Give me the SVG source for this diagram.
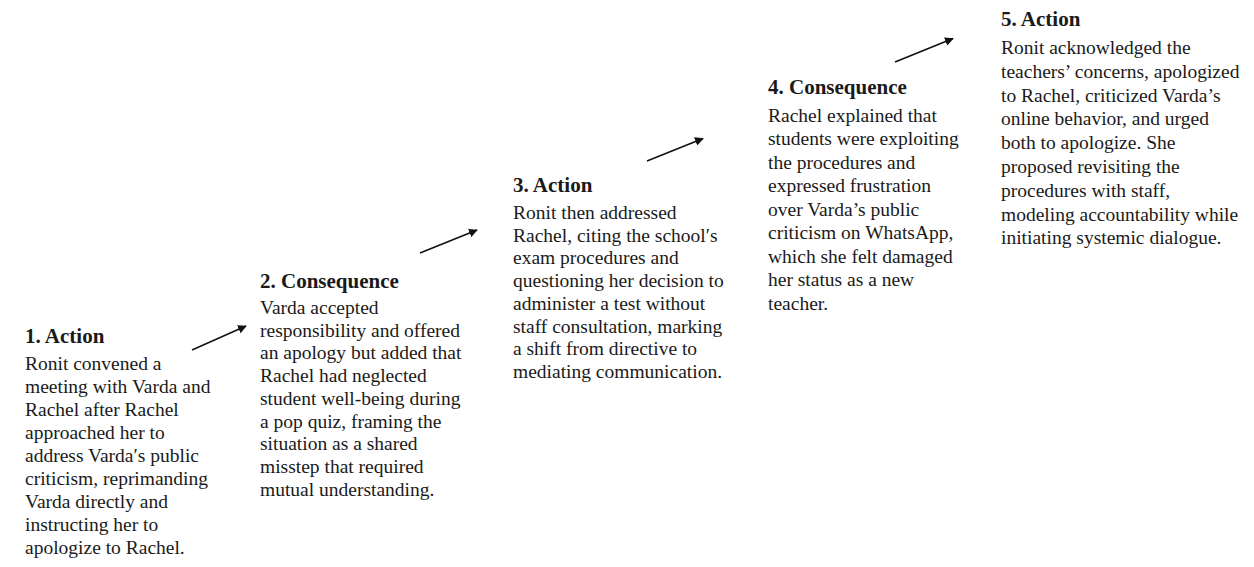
<svg xmlns="http://www.w3.org/2000/svg" width="1254" height="567" viewBox="0 0 1254 567">
<style>
  .t { font-family: "Liberation Serif", "Times New Roman", serif; font-size: 21px; font-weight: bold; fill: #1a1a1a; }
  .b { font-family: "Liberation Serif", "Times New Roman", serif; font-size: 19.5px; fill: #1a1a1a; }
  .c { stroke: #111; stroke-width: 1.6; fill: none; marker-end: url(#ah); }
</style>
<defs>
  <marker id="ah" viewBox="0 0 10 10" refX="9" refY="5" markerWidth="5.5" markerHeight="5.5" orient="auto" markerUnits="strokeWidth">
    <path d="M0,0 L10,5 L0,10 z" fill="#111"/>
  </marker>
</defs>
<rect width="1254" height="567" fill="#fff"/>
<g id="connectors">
  <line class="c" x1="192" y1="350" x2="246" y2="326"/>
  <line class="c" x1="420" y1="253" x2="477" y2="230"/>
  <line class="c" x1="647" y1="161" x2="703" y2="138.5"/>
  <line class="c" x1="895" y1="62" x2="953" y2="38.5"/>
</g>
<g id="node1">
  <text class="t" x="25" y="343">1. Action</text>
  <text class="b" x="25" y="370">
    <tspan x="25" dy="0">Ronit convened a</tspan>
    <tspan x="25" dy="23">meeting with Varda and</tspan>
    <tspan x="25" dy="23">Rachel after Rachel</tspan>
    <tspan x="25" dy="23">approached her to</tspan>
    <tspan x="25" dy="23">address Varda′s public</tspan>
    <tspan x="25" dy="23">criticism, reprimanding</tspan>
    <tspan x="25" dy="23">Varda directly and</tspan>
    <tspan x="25" dy="23">instructing her to</tspan>
    <tspan x="25" dy="23">apologize to Rachel.</tspan>
  </text>
</g>
<g id="node2">
  <text class="t" x="260" y="288">2. Consequence</text>
  <text class="b" x="260" y="314">
    <tspan x="260" dy="0">Varda accepted</tspan>
    <tspan x="260" dy="22.7">responsibility and offered</tspan>
    <tspan x="260" dy="22.7">an apology but added that</tspan>
    <tspan x="260" dy="22.7">Rachel had neglected</tspan>
    <tspan x="260" dy="22.7">student well-being during</tspan>
    <tspan x="260" dy="22.7">a pop quiz, framing the</tspan>
    <tspan x="260" dy="22.7">situation as a shared</tspan>
    <tspan x="260" dy="22.7">misstep that required</tspan>
    <tspan x="260" dy="22.7">mutual understanding.</tspan>
  </text>
</g>
<g id="node3">
  <text class="t" x="513" y="192">3. Action</text>
  <text class="b" x="513" y="219">
    <tspan x="513" dy="0">Ronit then addressed</tspan>
    <tspan x="513" dy="22.7">Rachel, citing the school′s</tspan>
    <tspan x="513" dy="22.7">exam procedures and</tspan>
    <tspan x="513" dy="22.7">questioning her decision to</tspan>
    <tspan x="513" dy="22.7">administer a test without</tspan>
    <tspan x="513" dy="22.7">staff consultation, marking</tspan>
    <tspan x="513" dy="22.7">a shift from directive to</tspan>
    <tspan x="513" dy="22.7">mediating communication.</tspan>
  </text>
</g>
<g id="node4">
  <text class="t" x="768" y="94">4. Consequence</text>
  <text class="b" x="768" y="121.5">
    <tspan x="768" dy="0">Rachel explained that</tspan>
    <tspan x="768" dy="23.5">students were exploiting</tspan>
    <tspan x="768" dy="23.5">the procedures and</tspan>
    <tspan x="768" dy="23.5">expressed frustration</tspan>
    <tspan x="768" dy="23.5">over Varda’s public</tspan>
    <tspan x="768" dy="23.5">criticism on WhatsApp,</tspan>
    <tspan x="768" dy="23.5">which she felt damaged</tspan>
    <tspan x="768" dy="23.5">her status as a new</tspan>
    <tspan x="768" dy="23.5">teacher.</tspan>
  </text>
</g>
<g id="node5">
  <text class="t" x="1001" y="26">5. Action</text>
  <text class="b" x="1001" y="54">
    <tspan x="1001" dy="0">Ronit acknowledged the</tspan>
    <tspan x="1001" dy="23.8">teachers’ concerns, apologized</tspan>
    <tspan x="1001" dy="23.8">to Rachel, criticized Varda’s</tspan>
    <tspan x="1001" dy="23.8">online behavior, and urged</tspan>
    <tspan x="1001" dy="23.8">both to apologize. She</tspan>
    <tspan x="1001" dy="23.8">proposed revisiting the</tspan>
    <tspan x="1001" dy="23.8">procedures with staff,</tspan>
    <tspan x="1001" dy="23.8">modeling accountability while</tspan>
    <tspan x="1001" dy="23.8">initiating systemic dialogue.</tspan>
  </text>
</g>
</svg>
